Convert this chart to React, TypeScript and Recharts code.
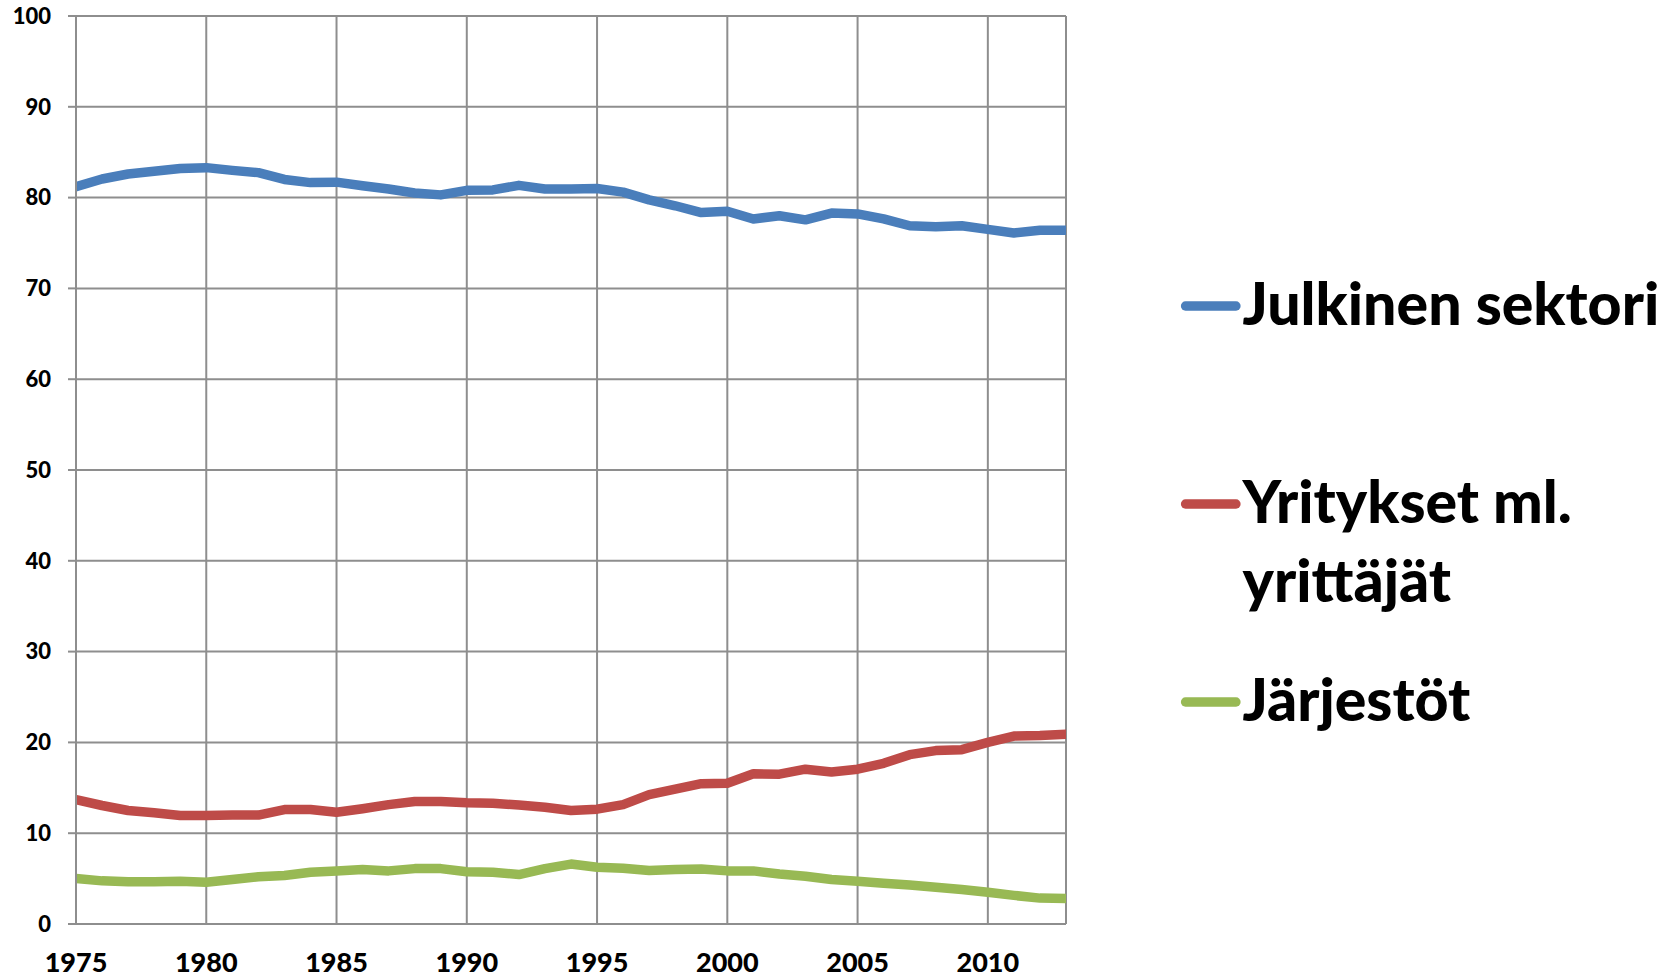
import React from 'react';
import { LineChart, Line, XAxis, YAxis, CartesianGrid, Legend } from 'recharts';

const years: number[] = [
  1975, 1976, 1977, 1978, 1979, 1980, 1981, 1982, 1983, 1984,
  1985, 1986, 1987, 1988, 1989, 1990, 1991, 1992, 1993, 1994,
  1995, 1996, 1997, 1998, 1999, 2000, 2001, 2002, 2003, 2004,
  2005, 2006, 2007, 2008, 2009, 2010, 2011, 2012, 2013,
];

const julkinen: number[] = [
  81.2, 82.05, 82.6, 82.9, 83.2, 83.3, 83.0, 82.75, 82.0, 81.65,
  81.7, 81.3, 80.95, 80.5, 80.3, 80.8, 80.85, 81.35, 80.95, 80.95,
  81.0, 80.6, 79.75, 79.1, 78.35, 78.5, 77.65, 78.0, 77.55, 78.3,
  78.2, 77.65, 76.9, 76.8, 76.9, 76.5, 76.1, 76.4, 76.4,
];

const yritykset: number[] = [
  13.7, 13.05, 12.5, 12.25, 11.95, 11.95, 12.0, 12.0, 12.6, 12.6,
  12.3, 12.7, 13.15, 13.5, 13.5, 13.35, 13.3, 13.1, 12.85, 12.5,
  12.65, 13.15, 14.25, 14.85, 15.45, 15.5, 16.55, 16.5, 17.05, 16.75,
  17.05, 17.7, 18.65, 19.1, 19.2, 20.0, 20.7, 20.75, 20.9,
];

const jarjestot: number[] = [
  5.0, 4.75, 4.65, 4.65, 4.7, 4.6, 4.9, 5.2, 5.35, 5.7,
  5.85, 6.0, 5.85, 6.1, 6.1, 5.75, 5.7, 5.45, 6.1, 6.6,
  6.25, 6.15, 5.9, 6.0, 6.05, 5.85, 5.85, 5.5, 5.25, 4.9,
  4.7, 4.5, 4.3, 4.05, 3.8, 3.5, 3.15, 2.85, 2.8,
];

const seriesNames: string[] = ['Julkinen sektori', 'Yritykset ml. yrittäjät', 'Järjestöt'];
const seriesColors: string[] = ['#4A7EBB', '#BE4B48', '#98B954'];
const xTicks: number[] = [1975, 1980, 1985, 1990, 1995, 2000, 2005, 2010];
const yTicks: number[] = [0, 10, 20, 30, 40, 50, 60, 70, 80, 90, 100];

const data = years.map((y, i) => ({
  year: y,
  s0: julkinen[i],
  s1: yritykset[i],
  s2: jarjestot[i],
}));

const FONT = "Lato, 'Open Sans', sans-serif";
const GRID = '#8e8e8e';
const LEG_FS = 59;
const WEIGHT = 900;

function wrapText(text: string, maxW: number, fs: number): string[] {
  const words = text.split(' ');
  const lines: string[] = [];
  let cur = '';
  for (const w of words) {
    const test = cur ? cur + ' ' + w : w;
    if (test.length * 0.5 * fs > maxW && cur) {
      lines.push(cur);
      cur = w;
    } else {
      cur = test;
    }
  }
  if (cur) lines.push(cur);
  return lines;
}

const renderLegend = (props: any) => {
  const payload = [...(props.payload || [])].sort(
    (a: any, b: any) => seriesNames.indexOf(String(a.value)) - seriesNames.indexOf(String(b.value))
  );
  return (
    <svg width={500} height={500} style={{ overflow: 'visible', display: 'block' }}>
      {payload.map((entry: any, i: number) => {
        const cy = 46 + 198 * i;
        const lines = wrapText(String(entry.value), 500, LEG_FS);
        return (
          <g key={i}>
            <line x1={15.5} x2={66} y1={cy} y2={cy} stroke={entry.color} strokeWidth={9.3} strokeLinecap="round" />
            {lines.map((ln, j) => (
              <text key={j} x={72.5} y={cy + 19.3 + j * 78.4} fontFamily={FONT} fontWeight={WEIGHT} fontSize={LEG_FS} fill="#000">
                {ln}
              </text>
            ))}
          </g>
        );
      })}
    </svg>
  );
};

export default function App() {
  return (
    <div style={{ position: 'absolute', left: 0, top: 0, width: 1671, height: 980, background: '#fff' }}>
      <LineChart
        width={1671}
        height={980}
        data={data}
        margin={{ top: 16, right: 605, left: 0, bottom: 0 }}
      >
        <CartesianGrid stroke={GRID} strokeWidth={2} vertical={true} horizontal={true} />
        <XAxis
          dataKey="year"
          type="number"
          domain={[1975, 2013]}
          ticks={xTicks}
          interval={0}
          height={56}
          tickLine={false}
          tickSize={0}
          tickMargin={29}
          axisLine={{ stroke: GRID, strokeWidth: 2 }}
          tick={{ fontFamily: FONT, fontWeight: WEIGHT, fontSize: 27, fill: '#000' }}
          allowDataOverflow
        />
        <YAxis
          type="number"
          domain={[0, 100]}
          ticks={yTicks}
          interval={0}
          width={76}
          tickSize={8}
          tickMargin={17}
          tickLine={{ stroke: GRID, strokeWidth: 2 }}
          axisLine={{ stroke: GRID, strokeWidth: 2 }}
          tick={{ fontFamily: FONT, fontWeight: WEIGHT, fontSize: 22, fill: '#000' }}
        />
        <Legend
          layout="horizontal"
          verticalAlign="middle"
          align="center"
          content={renderLegend}
          wrapperStyle={{ position: 'absolute', left: 1170, top: 260, width: 500, height: 500 }}
        />
        {['s0', 's1', 's2'].map((k, i) => (
          <Line
            key={k}
            type="linear"
            dataKey={k}
            name={seriesNames[i]}
            stroke={seriesColors[i]}
            strokeWidth={9.5}
            strokeLinejoin="round"
            strokeLinecap="round"
            dot={false}
            activeDot={false}
            isAnimationActive={false}
          />
        ))}
      </LineChart>
    </div>
  );
}
